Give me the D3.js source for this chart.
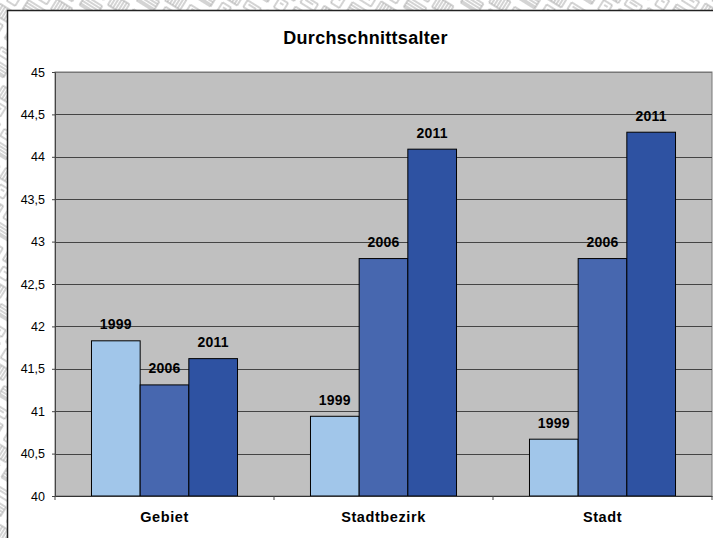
<!DOCTYPE html>
<html><head><meta charset="utf-8"><script src="https://cdn.jsdelivr.net/npm/d3@7"></script>
<style>html,body{margin:0;padding:0;background:#fff}svg{display:block}text{font-family:"Liberation Sans",Arial,sans-serif;fill:#000}</style></head>
<body><svg id="c" width="713" height="538"></svg>
<script>
const categories=["Gebiet","Stadtbezirk","Stadt"];
const years=["1999","2006","2011"];
const v1999=[41.83,40.94,40.67];
const v2006=[41.31,42.8,42.8];
const v2011=[41.62,44.09,44.29];
const colors=["#a1c6ea","#4767af","#2e52a2"];
const yTicks=[40,40.5,41,41.5,42,42.5,43,43.5,44,44.5,45];
const series=[v1999,v2006,v2011];

const svg=d3.select("#c");
const hatch=svg.append("defs").append("pattern").attr("id","h").attr("width",46).attr("height",34)
  .attr("patternUnits","userSpaceOnUse").attr("patternTransform","rotate(32)");
hatch.append("rect").attr("width",46).attr("height",34).attr("fill","#fff");
hatch.append("path").attr("fill","none").attr("stroke","#aaa").attr("stroke-width",1)
  .attr("d","M2 3H20V15H2ZM5 3V15M8 3V15M11 3V15M14 3V15M17 3V15M26 5H42V13H26ZM29 8H38M6 20H16V31H6ZM9 24H13M24 19H44V30H24ZM24 22H44M24 25H44M24 28H44");
svg.append("rect").attr("width",713).attr("height",538).attr("fill","url(#h)");
svg.append("rect").attr("x",7.5).attr("y",10.5).attr("width",720).attr("height",540).attr("fill","#fff").attr("stroke","#222").attr("stroke-width",1.5);

const L=55,R=712,T=72,B=496;
const x=d3.scaleBand().domain(categories).range([L,R]).padding(0);
const inner=d3.scaleBand().domain(years).range([0,x.bandwidth()]).paddingInner(0).paddingOuter(36.5/48.7);
const y=d3.scaleLinear().domain([40,45]).range([B,T]);

svg.append("rect").attr("x",L).attr("y",T).attr("width",R-L).attr("height",B-T).attr("fill","#c0c0c0").attr("stroke","#777").attr("stroke-width",1);
const fmt=d=>String(d).replace(".",",");
const grid=svg.append("g");
grid.selectAll("line").data(yTicks.slice(1)).join("line")
  .attr("x1",L).attr("x2",R).attr("y1",d=>Math.round(y(d))+.5).attr("y2",d=>Math.round(y(d))+.5)
  .attr("stroke",d=>d===45?"#777":"#444").attr("stroke-width",1.2);

const g=svg.append("g");
series.forEach((vals,s)=>{
  g.selectAll(null).data(vals).join("rect")
   .attr("x",(d,i)=>x(categories[i])+inner(years[s]))
   .attr("y",d=>y(d)).attr("width",inner.bandwidth()).attr("height",d=>B-y(d))
   .attr("fill",colors[s]).attr("stroke","#000").attr("stroke-width",1);
});
series.forEach((vals,s)=>{
  g.selectAll(null).data(vals).join("text")
   .attr("x",(d,i)=>x(categories[i])+inner(years[s])+inner.bandwidth()/2)
   .attr("y",d=>y(d)-11.5).attr("text-anchor","middle")
   .attr("font-size",14).attr("letter-spacing",.2).attr("font-weight","bold").text(years[s]);
});

const ay=d3.axisLeft(y).tickValues(yTicks).tickFormat(fmt).tickSize(3).tickPadding(7);
const gy=svg.append("g").attr("transform",`translate(${L},0)`).call(ay);
gy.selectAll("text").attr("font-size",12.5).style("font-family",'"Liberation Sans",Arial,sans-serif');
gy.selectAll("line,path").attr("stroke","#444");

const ax=d3.axisBottom(x).tickSize(0).tickPadding(16);
const gx=svg.append("g").attr("transform",`translate(0,${B})`).call(ax);
gx.selectAll("text").attr("font-size",14.5).attr("letter-spacing",.6).attr("font-weight","bold").style("font-family",'"Liberation Sans",Arial,sans-serif');
gx.select("path").attr("stroke","#333");
gx.selectAll(null).data([L,...categories.map(c=>x(c)+x.bandwidth())]).join("line")
  .attr("x1",d=>d).attr("x2",d=>d).attr("y1",0).attr("y2",4).attr("stroke","#444");

svg.append("text").attr("x",365.5).attr("y",44).attr("text-anchor","middle").attr("font-size",18).attr("letter-spacing",.3).attr("font-weight","bold").text("Durchschnittsalter");
</script></body></html>
